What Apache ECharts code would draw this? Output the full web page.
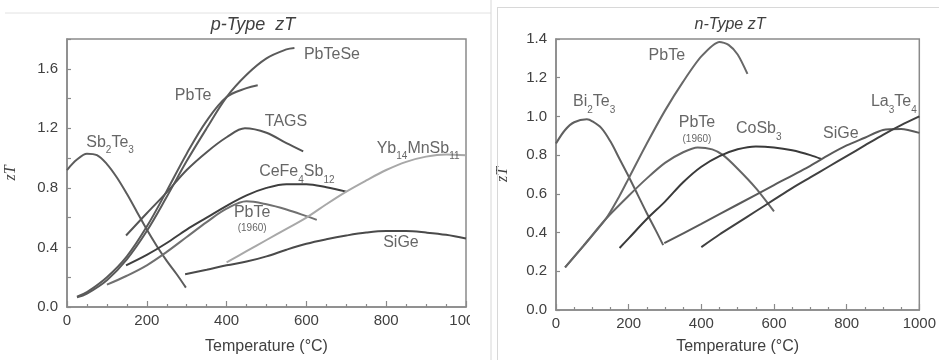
<!DOCTYPE html>
<html><head><meta charset="utf-8">
<script src="https://cdn.jsdelivr.net/npm/echarts@6/dist/echarts.min.js"></script>
<style>html,body{margin:0;padding:0;background:#fff}#c{width:939px;height:360px}</style>
</head><body><div id="c"></div>
<script>
// ---------- p-type data: [Temperature °C, zT] ----------
const pSb2Te3 = [[0,0.92],[25,0.99],[50,1.03],[75,1.02],[100,0.96],[125,0.87],[150,0.76],[175,0.64],[200,0.52],[225,0.41],[250,0.31],[275,0.22],[298,0.13]];
const pPbTe = [[25,0.07],[50,0.10],[100,0.20],[150,0.34],[200,0.54],[250,0.78],[300,1.03],[350,1.25],[400,1.41],[450,1.47],[478,1.49]];
const pPbTeSe = [[25,0.065],[50,0.09],[100,0.18],[150,0.32],[200,0.51],[250,0.74],[300,0.98],[350,1.20],[400,1.41],[450,1.56],[500,1.67],[550,1.73],[570,1.74]];
const pTAGS = [[148,0.48],[200,0.63],[250,0.77],[300,0.92],[350,1.04],[400,1.14],[446,1.20],[500,1.17],[550,1.10],[592,1.045]];
const pCeFe4Sb12 = [[148,0.28],[200,0.35],[250,0.43],[300,0.52],[350,0.60],[400,0.68],[450,0.75],[500,0.80],[550,0.825],[600,0.825],[650,0.805],[700,0.775]];
const pPbTe1960 = [[100,0.15],[150,0.21],[200,0.28],[250,0.37],[300,0.47],[350,0.57],[400,0.66],[450,0.71],[500,0.69],[550,0.655],[600,0.61],[626,0.585]];
const pYb14MnSb11 = [[400,0.30],[450,0.375],[500,0.45],[550,0.525],[600,0.60],[650,0.69],[700,0.775],[750,0.85],[800,0.92],[850,0.975],[900,1.01],[950,1.025],[1000,1.02]];
const pSiGe = [[296,0.22],[350,0.25],[400,0.28],[450,0.305],[500,0.34],[550,0.385],[600,0.425],[650,0.455],[700,0.48],[750,0.50],[800,0.51],[850,0.51],[900,0.50],[950,0.485],[1000,0.46]];

// ---------- n-type data ----------
const nBi2Te3 = [[0,0.86],[25,0.93],[50,0.97],[85,0.985],[100,0.975],[125,0.94],[150,0.87],[175,0.78],[200,0.69],[225,0.595],[250,0.50],[275,0.41],[295,0.335]];
const nPbTe = [[25,0.22],[75,0.33],[137,0.47],[175,0.59],[200,0.68],[250,0.86],[300,1.03],[350,1.18],[400,1.31],[450,1.385],[475,1.37],[500,1.32],[527,1.22]];
const nPbTe1960 = [[25,0.22],[75,0.33],[137,0.47],[200,0.59],[250,0.68],[300,0.76],[350,0.815],[390,0.84],[430,0.83],[460,0.80],[500,0.73],[550,0.63],[600,0.51]];
const nCoSb3 = [[175,0.32],[200,0.37],[250,0.47],[300,0.56],[350,0.66],[400,0.74],[450,0.795],[500,0.83],[550,0.845],[600,0.84],[650,0.825],[700,0.80],[730,0.78]];
const nSiGe = [[298,0.345],[400,0.445],[500,0.545],[600,0.645],[700,0.745],[750,0.80],[800,0.85],[850,0.89],[900,0.93],[950,0.935],[1000,0.915]];
const nLa3Te4 = [[400,0.325],[450,0.39],[500,0.45],[550,0.51],[600,0.57],[650,0.63],[700,0.685],[750,0.74],[800,0.795],[850,0.85],[900,0.905],[950,0.955],[1000,1.0]];

// ---------- labels (rich text) and their anchor in data units ----------
const pLabelText = ['{n|Sb}{s|2}{n|Te}{s|3}','{n|PbTe}','{n|PbTeSe}','{n|TAGS}','{n|Yb}{s|14}{n|MnSb}{s|11}','{n|CeFe}{s|4}{n|Sb}{s|12}','{n|PbTe}\n{sm|(1960)}','{n|SiGe}'];
const pLabelAt = [[108,1.10],[316,1.415],[664,1.69],[549,1.236],[880,1.06],[576,0.90],[464,0.59],[837,0.423]];
const nLabelText = ['{n|PbTe}','{n|Bi}{s|2}{n|Te}{s|3}','{n|PbTe}\n{sm|(1960)}','{n|CoSb}{s|3}','{n|SiGe}','{n|La}{s|3}{n|Te}{s|4}'];
const nLabelAt = [[305,1.308],[105,1.07],[388,0.93],[558,0.93],[784,0.908],[930,1.07]];

const xTicks = {min:0, max:1000, interval:200};
const pY = {min:0, max:1.8, interval:0.2};
const nY = {min:0, max:1.4, interval:0.2};

const FONT = 'Liberation Sans, Arial, sans-serif';
const TXT = '#404040';
const AX = '#8a8a8a';

function xAxis(gi, gap){
  return {gridIndex:gi, type:'value', min:xTicks.min, max:xTicks.max, interval:xTicks.interval,
    axisLine:{show:true, lineStyle:{color:AX, width:1.5}},
    axisTick:{show:true, inside:true, length:6, lineStyle:{color:AX, width:1.2}},
    minorTick:{show:true, splitNumber:4, length:3, lineStyle:{color:AX, width:1.2}},
    splitLine:{show:false},
    axisLabel:{color:TXT, fontSize:15, fontFamily:FONT, margin:6, showMaxLabel:true, formatter:v=>String(v)},
    name:'Temperature (°C)', nameLocation:'middle', nameGap:gap,
    nameTextStyle:{color:TXT, fontSize:16, fontFamily:FONT}};
}
function yAxis(gi, cfg, fmt, gap){
  return {gridIndex:gi, type:'value', min:cfg.min, max:cfg.max, interval:cfg.interval,
    axisLine:{show:true, lineStyle:{color:AX, width:1.5}},
    axisTick:{show:true, inside:true, length:4, lineStyle:{color:AX, width:1.2}},
    splitLine:{show:false},
    axisLabel:{color:TXT, fontSize:15, fontFamily:FONT, margin:9, formatter:fmt, showMaxLabel:true},
    name:'zT', nameLocation:'middle', nameGap:gap, nameRotate:90,
    nameTextStyle:{color:TXT, fontSize:16, fontStyle:'italic', fontFamily:'Liberation Serif, serif'}};
}

const rich = {
  n:{fontSize:16, lineHeight:18, color:TXT, fontFamily:FONT, verticalAlign:'top'},
  s:{fontSize:10, lineHeight:10, padding:[11,0,0,0], color:TXT, fontFamily:FONT, verticalAlign:'top'},
  sm:{fontSize:10, lineHeight:12, color:TXT, fontFamily:FONT, align:'center'}
};

function line(name, data, gi, color, smooth){
  return {name, type:'line', xAxisIndex:gi, yAxisIndex:gi, data, showSymbol:false, symbol:'none',
    smooth: smooth===undefined ? 0.35 : smooth, lineStyle:{color, width:2}, silent:true, z:3};
}
function labels(texts, at, gi){
  return {type:'scatter', xAxisIndex:gi, yAxisIndex:gi, symbolSize:0, silent:true, z:5,
    data: at.map((p,i)=>({value:p, name:texts[i]})),
    label:{show:true, position:'inside', formatter:(pp)=>pp.name, rich, align:'center', verticalAlign:'middle', lineHeight:18}};
}

const chart = echarts.init(document.getElementById('c'));
chart.setOption({
  animation:false,
  grid:[
    {left:67, top:39, width:399, height:273, show:true, borderColor:AX, borderWidth:1.5, backgroundColor:'transparent'},
    {left:556, top:39, width:371, height:273, show:true, borderColor:AX, borderWidth:1.5, backgroundColor:'transparent'}
  ],
  xAxis:[xAxis(0,32), xAxis(1,29)],
  yAxis:[
    yAxis(0, pY, v=>{const k=Math.round(v*10); return k%4===0 ? v.toFixed(1) : '';}, 48),
    yAxis(1, nY, v=>v.toFixed(1), 45)
  ],
  series:[
    line('Sb2Te3', pSb2Te3, 0, '#5c5c5c'),
    line('PbTe', pPbTe, 0, '#5a5a5a'),
    line('PbTeSe', pPbTeSe, 0, '#5a5a5a'),
    line('TAGS', pTAGS, 0, '#555555'),
    line('CeFe4Sb12', pCeFe4Sb12, 0, '#3e3e3e'),
    line('PbTe (1960)', pPbTe1960, 0, '#707070'),
    line('Yb14MnSb11', pYb14MnSb11, 0, '#a8a8a8'),
    line('SiGe', pSiGe, 0, '#4a4a4a'),
    line('Bi2Te3', nBi2Te3, 1, '#606060'),
    line('PbTe n', nPbTe, 1, '#686868', 0.25),
    line('PbTe (1960) n', nPbTe1960, 1, '#666666', 0.25),
    line('CoSb3', nCoSb3, 1, '#3a3a3a'),
    line('SiGe n', nSiGe, 1, '#5a5a5a', 0.25),
    line('La3Te4', nLa3Te4, 1, '#404040', 0.25),
    labels(pLabelText, pLabelAt, 0),
    labels(nLabelText, nLabelAt, 1)
  ],
  graphic:[
    {type:'rect', left:470, top:0, shape:{width:21, height:360}, style:{fill:'#ffffff'}, z:100},
    {type:'line', shape:{x1:5, y1:13, x2:491, y2:13}, style:{stroke:'#e2e2e2', lineWidth:1}, z:101},
    {type:'line', shape:{x1:491, y1:0, x2:491, y2:360}, style:{stroke:'#d8d8d8', lineWidth:1}, z:101},
    {type:'line', shape:{x1:497.5, y1:7, x2:497.5, y2:360}, style:{stroke:'#d8d8d8', lineWidth:1}, z:101},
    {type:'line', shape:{x1:497, y1:7.5, x2:939, y2:7.5}, style:{stroke:'#d8d8d8', lineWidth:1}, z:101},
    {type:'text', x:253, y:25, style:{text:'p-Type  zT', fontSize:18, fontStyle:'italic', fontFamily:FONT, fill:TXT, align:'center', verticalAlign:'middle'}, z:101},
    {type:'text', x:730, y:25, style:{text:'n-Type zT', fontSize:16, fontStyle:'italic', fontFamily:FONT, fill:TXT, align:'center', verticalAlign:'middle'}, z:101}
  ]
});
</script></body></html>
